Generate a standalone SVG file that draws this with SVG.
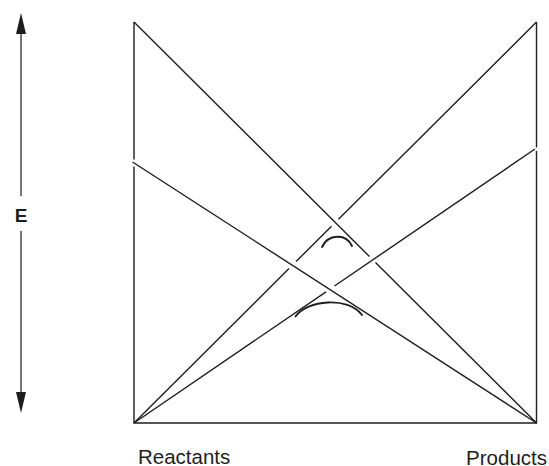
<svg xmlns="http://www.w3.org/2000/svg" width="549" height="466" viewBox="0 0 549 466">
<style>
.ln{stroke:#1e1e1e;stroke-width:1.4;fill:none;stroke-linecap:butt}
.arc{stroke:#1e1e1e;stroke-width:1.9;fill:none;stroke-linecap:round}
.ax{stroke:#555;stroke-width:1.6;fill:none}
.head{fill:#1e1e1e}
.lbl{font-family:"Liberation Sans",Arial,sans-serif;font-size:20.5px;fill:#1e1e1e}
.e{font-family:"Liberation Sans",Arial,sans-serif;font-size:19px;font-weight:bold;fill:#1e1e1e}
</style>
<g id="axis">
<line class="ax" x1="21" y1="32" x2="21" y2="196"/>
<line class="ax" x1="21" y1="231" x2="21" y2="394"/>
<polygon class="head" points="21,13 16,34 26,34"/>
<polygon class="head" points="21,413 16,392 26,392"/>
<text class="e" x="21" y="222" text-anchor="middle">E</text>
</g>
<g id="frame">
<line class="ln" x1="134" y1="22" x2="134" y2="159.5"/>
<line class="ln" x1="134" y1="166.5" x2="134" y2="423"/>
<line class="ln" x1="536.5" y1="22" x2="536.5" y2="147.5"/>
<line class="ln" x1="536.5" y1="151" x2="536.5" y2="423"/>
<line class="ln" x1="133.3" y1="423" x2="537.2" y2="423"/>
</g>
<g id="connectors">
<!-- A: top-left to bottom-right -->
<line class="ln" x1="134" y1="22" x2="369.5" y2="256.6"/>
<line class="ln" x1="375.5" y1="262.6" x2="536.5" y2="423"/>
<!-- B: top-right to bottom-left -->
<line class="ln" x1="536.5" y1="22" x2="338.5" y2="219.3"/>
<line class="ln" x1="331.5" y1="226.2" x2="296" y2="261.6"/>
<line class="ln" x1="289" y1="268.6" x2="134" y2="423"/>
<!-- C: left-mid to bottom-right -->
<line class="ln" x1="132.5" y1="162" x2="536.5" y2="423"/>
<!-- D: right-mid to bottom-left -->
<line class="ln" x1="535" y1="149" x2="334.5" y2="286"/>
<line class="ln" x1="326" y1="291.8" x2="134" y2="423"/>
</g>
<g id="arcs">
<path class="arc" d="M322 247 C328 234 346 233 352 246"/>
<path class="arc" d="M295.5 316.5 C307 300 348 296 362 315"/>
</g>
<g id="labels">
<text class="lbl" x="138" y="463.5">Reactants</text>
<text class="lbl" x="547" y="465" text-anchor="end">Products</text>
</g>
</svg>
